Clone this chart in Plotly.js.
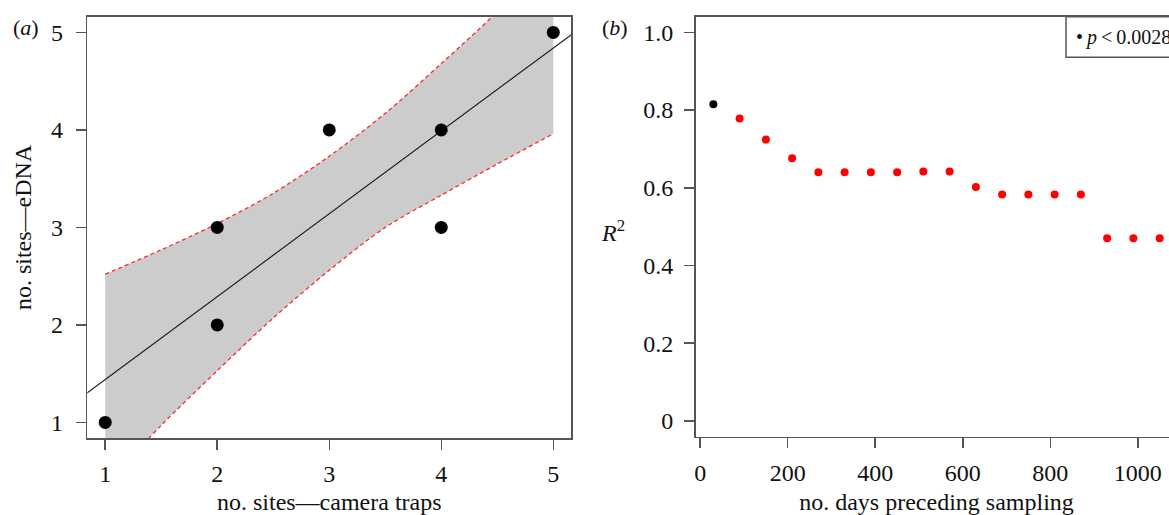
<!DOCTYPE html>
<html>
<head>
<meta charset="utf-8">
<script src="https://cdn.plot.ly/plotly-3.0.1.min.js"></script>
<style>
  html, body { margin: 0; padding: 0; overflow: hidden; background: #fff; }
  #chart { width: 1200px; height: 515px; }
</style>
</head>
<body>
<div id="chart"></div>
<script>
// ---------- Panel (a): eDNA vs camera traps ----------
const cameraSites = [1, 2, 2, 3, 4, 4, 5];
const ednaSites   = [1, 2, 3, 4, 4, 3, 5];

// fitted regression line
const fitX = [0.8, 5.2];
const fitY = [1.27, 5.01];

// confidence band
const bandX     = [1, 1.5, 2, 2.5, 3, 3.5, 4, 4.5, 5];
const bandUpper = [2.52, 2.77, 3.04, 3.35, 3.73, 4.17, 4.68, 5.21, 5.78];
const bandLower = [0.36, 0.97, 1.53, 2.07, 2.56, 3.00, 3.33, 3.65, 3.96];

const aTicks = [1, 2, 3, 4, 5];

// ---------- Panel (b): R^2 vs days preceding sampling ----------
const days = [30, 90, 150, 210, 270, 330, 390, 450, 510, 570, 630, 690, 750, 810, 870, 930, 990, 1050];
const r2   = [0.815, 0.778, 0.724, 0.676, 0.640, 0.640, 0.640, 0.640, 0.642, 0.642, 0.602, 0.583, 0.583, 0.583, 0.583, 0.470, 0.470, 0.470];
const significant = [true, false, false, false, false, false, false, false, false, false, false, false, false, false, false, false, false, false];

const bXTicks = [0, 200, 400, 600, 800, 1000];
const bYTicks = [0, 0.2, 0.4, 0.6, 0.8, 1.0];
const bYTickText = ['0', '0.2', '0.4', '0.6', '0.8', '1.0'];

// ---------- build ----------
const FONT = 'Liberation Serif, Times New Roman, serif';
const AXC = '#555555';
const W = 1200, H = 515;

const sigX = days.filter((d, i) => significant[i]);
const sigY = r2.filter((d, i) => significant[i]);
const nsX = days.filter((d, i) => !significant[i]);
const nsY = r2.filter((d, i) => !significant[i]);

const dashLine = { color: '#ff2a2a', width: 1.3, dash: '4px,3px', shape: 'spline', smoothing: 0.9 };

const traces = [
  { // lower bound
    x: bandX, y: bandLower, type: 'scatter', mode: 'lines',
    line: dashLine,
    xaxis: 'x', yaxis: 'y', showlegend: false, hoverinfo: 'skip'
  },
  { // upper bound, filled down to lower bound
    x: bandX, y: bandUpper, type: 'scatter', mode: 'lines',
    line: dashLine, fill: 'tonexty', fillcolor: '#cccccc',
    xaxis: 'x', yaxis: 'y', showlegend: false, hoverinfo: 'skip'
  },
  {
    x: fitX, y: fitY, type: 'scatter', mode: 'lines',
    line: { color: '#222222', width: 1.2 },
    xaxis: 'x', yaxis: 'y', showlegend: false
  },
  {
    x: cameraSites, y: ednaSites, type: 'scatter', mode: 'markers',
    marker: { color: '#000000', size: 13 },
    xaxis: 'x', yaxis: 'y', showlegend: false
  },
  {
    x: nsX, y: nsY, type: 'scatter', mode: 'markers',
    marker: { color: '#ff0000', size: 8 },
    xaxis: 'x2', yaxis: 'y2', showlegend: false
  },
  {
    x: sigX, y: sigY, type: 'scatter', mode: 'markers',
    marker: { color: '#000000', size: 8 },
    xaxis: 'x2', yaxis: 'y2', showlegend: false
  }
];

const px = v => v / W;
const py = v => 1 - v / H;

const axisCommon = {
  showline: true, mirror: true, linecolor: AXC, linewidth: 1.5,
  ticks: 'outside', ticklen: 10, tickwidth: 1.5, tickcolor: AXC,
  showgrid: false, zeroline: false,
  tickfont: { family: FONT, size: 24, color: '#111' },
  fixedrange: true
};

const layout = {
  width: W, height: H,
  margin: { l: 0, r: 0, t: 0, b: 0 },
  paper_bgcolor: '#ffffff', plot_bgcolor: '#ffffff',
  showlegend: false,
  font: { family: FONT, color: '#111' },
  xaxis: Object.assign({}, axisCommon, {
    domain: [px(87.3), px(571.2)], range: [0.84, 5.16], anchor: 'y',
    tickmode: 'array', tickvals: aTicks, ticktext: aTicks.map(String),
    ticklabelstandoff: 4,
    title: { text: 'no. sites\u2014camera traps', font: { family: FONT, size: 24, color: '#111' }, standoff: 18 }
  }),
  yaxis: Object.assign({}, axisCommon, {
    domain: [py(438), py(16.8)], range: [0.84, 5.16], anchor: 'x',
    tickmode: 'array', tickvals: aTicks, ticktext: aTicks.map(String),
    ticklabelstandoff: 8,
    title: { text: 'no. sites\u2014eDNA', font: { family: FONT, size: 24, color: '#111' }, standoff: 12 }
  }),
  xaxis2: Object.assign({}, axisCommon, {
    domain: [px(695.5), px(1177.5)], range: [-10.8, 1090.8], anchor: 'y2',
    tickmode: 'array', tickvals: bXTicks, ticktext: bXTicks.map(String),
    ticklabelstandoff: 4,
    title: { text: 'no. days preceding sampling', font: { family: FONT, size: 24, color: '#111' }, standoff: 16 }
  }),
  yaxis2: Object.assign({}, axisCommon, {
    domain: [py(436.5), py(16.8)], range: [-0.04, 1.04], anchor: 'x2',
    tickmode: 'array', tickvals: bYTicks, ticktext: bYTickText,
    ticklabelstandoff: 6
  }),
  shapes: [
    { type: 'rect', xref: 'paper', yref: 'paper',
      x0: px(1066), x1: px(1177.5), y0: py(57.3), y1: py(16.8),
      line: { color: AXC, width: 1.5 }, fillcolor: 'rgba(0,0,0,0)' }
  ],
  annotations: [
    { text: '(<i>a</i>)', xref: 'paper', yref: 'paper', x: px(25.5), y: py(27),
      xanchor: 'center', yanchor: 'middle', showarrow: false,
      font: { family: FONT, size: 22, color: '#111' } },
    { text: '(<i>b</i>)', xref: 'paper', yref: 'paper', x: px(615), y: py(27),
      xanchor: 'center', yanchor: 'middle', showarrow: false,
      font: { family: FONT, size: 22, color: '#111' } },
    { text: '<i>R</i><sup>2</sup>', xref: 'paper', yref: 'paper', x: px(613), y: py(231),
      xanchor: 'center', yanchor: 'middle', showarrow: false,
      font: { family: FONT, size: 24, color: '#111' } },
    { text: '\u2022\u2009<i>p</i>\u2009<\u20090.0028', xref: 'paper', yref: 'paper', x: px(1074), y: py(37.5),
      xanchor: 'left', yanchor: 'middle', showarrow: false,
      font: { family: FONT, size: 20, color: '#111' } }
  ]
};

Plotly.newPlot('chart', traces, layout, { displayModeBar: false, staticPlot: true });
</script>
</body>
</html>
